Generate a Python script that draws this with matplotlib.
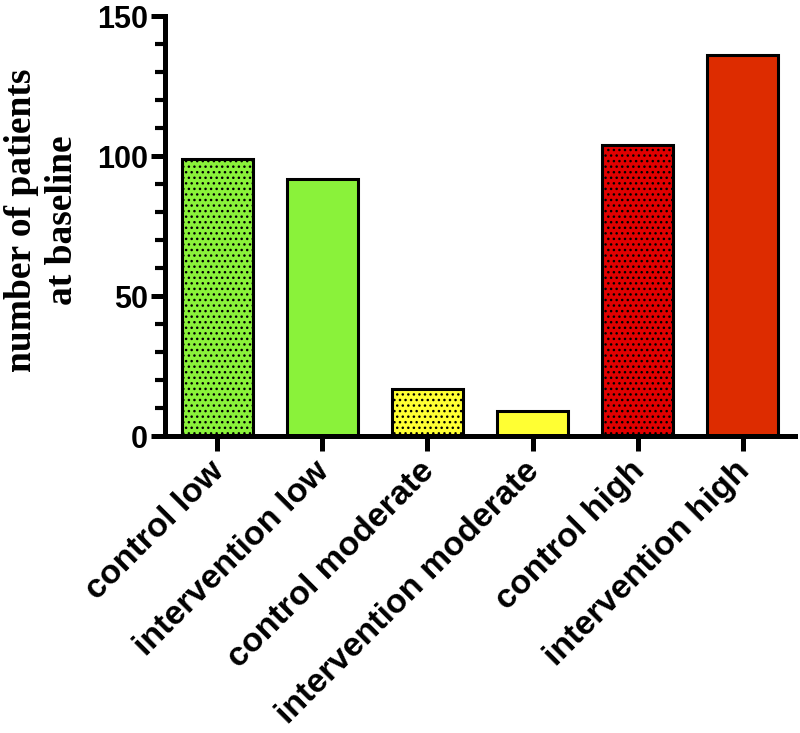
import matplotlib
matplotlib.use("Agg")
import matplotlib.pyplot as plt
import matplotlib.transforms as mtransforms
from matplotlib.ticker import MultipleLocator

categories = ["control low", "intervention low", "control moderate",
              "intervention moderate", "control high", "intervention high"]
values = [99, 92, 17, 9, 104, 136]
colors = ["#8AF23A", "#8AF23A", "#FFFF33", "#FFFF33", "#E00000", "#DD2C00"]
hatches = ["...", "", "...", "", "...", ""]

plt.rcParams['hatch.color'] = '#444444'
plt.rcParams['hatch.linewidth'] = 1.0

fig = plt.figure(figsize=(8, 7.33), dpi=100)
ax = fig.add_axes([0.206, 0.405, 0.788, 0.573])

x = list(range(len(categories)))
for xi, v, c, h in zip(x, values, colors, hatches):
    ax.bar(xi, v, width=0.67, color=c, edgecolor='black', linewidth=2.2, hatch=h)

ax.set_xlim(-0.5, 5.5)
ax.set_ylim(0, 150)
ax.yaxis.set_major_locator(MultipleLocator(50))
ax.yaxis.set_minor_locator(MultipleLocator(10))
ax.spines['top'].set_visible(False)
ax.spines['right'].set_visible(False)
ax.spines['left'].set_linewidth(3.6)
ax.spines['bottom'].set_linewidth(3.6)
ax.tick_params(axis='y', which='major', length=10, width=3.6, labelsize=22, pad=2)
ax.tick_params(axis='y', which='minor', length=7, width=3.0)
ax.tick_params(axis='x', length=11, width=3.6, pad=3)

ax.set_xticks(x)
ax.set_xticklabels(categories, rotation=45, ha='right', rotation_mode='anchor',
                   fontsize=24.5, fontweight='bold', family='Liberation Sans')
offset = mtransforms.ScaledTranslation(-9 / 100, 0, fig.dpi_scale_trans)
for lab in ax.get_xticklabels():
    lab.set_transform(lab.get_transform() + offset)
for lab in ax.get_yticklabels():
    lab.set_fontweight('bold')
    lab.set_family('Liberation Sans')

ax.set_ylabel("number of patients\nat baseline", fontsize=27, fontweight='bold',
              family='Liberation Serif', linespacing=1.2)
ax.yaxis.set_label_coords(-0.135, 0.515)

fig.savefig("out.png", dpi=100)
